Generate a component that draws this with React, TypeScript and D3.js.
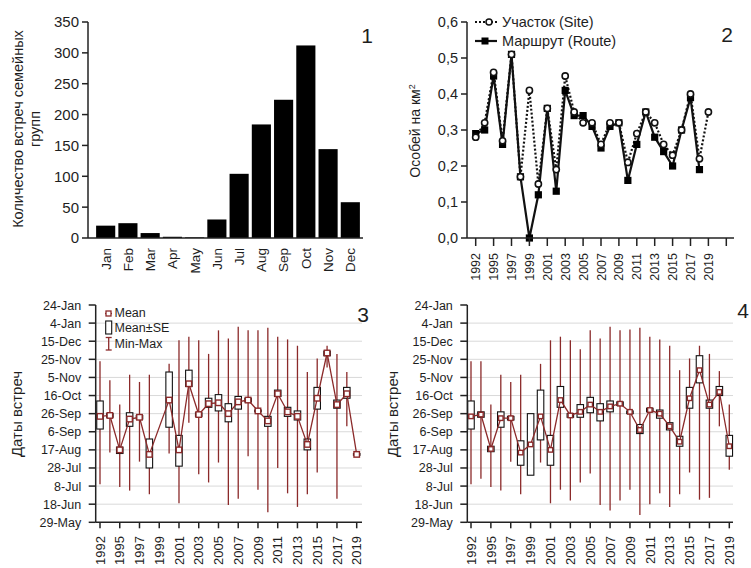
import React from "react";
import * as d3 from "d3";

// ---------- Panel 1: monthly counts ----------
const months = ["Jan", "Feb", "Mar", "Apr", "May", "Jun", "Jul", "Aug", "Sep", "Oct", "Nov", "Dec"];
const monthCounts = [20, 24, 8, 2, 1, 30, 104, 184, 224, 312, 144, 58];
const countTicks = [0, 50, 100, 150, 200, 250, 300, 350];

// ---------- Panel 2: density ----------
const years = [1992, 1994, 1995, 1996, 1997, 1998, 1999, 2000, 2001, 2002, 2003, 2004, 2005, 2006, 2007,
  2008, 2009, 2010, 2011, 2012, 2013, 2014, 2015, 2016, 2017, 2018, 2019];
const siteDensity = [0.28, 0.32, 0.46, 0.27, 0.51, 0.17, 0.41, 0.15, 0.36, 0.19, 0.45, 0.35, 0.32, 0.32, 0.26,
  0.32, 0.32, 0.21, 0.29, 0.35, 0.32, 0.26, 0.23, 0.30, 0.40, 0.22, 0.35];
const routeDensity = [0.29, 0.30, 0.45, 0.26, 0.51, 0.17, 0.0, 0.12, 0.36, 0.13, 0.41, 0.34, 0.34, 0.31, 0.25,
  0.31, 0.32, 0.16, 0.26, 0.35, 0.28, 0.24, 0.20, 0.30, 0.39, 0.19, null];
const densityTicks = [0, 0.1, 0.2, 0.3, 0.4, 0.5, 0.6];

// ---------- Panels 3 & 4: dates (days after 29 May) ----------
const dateTickLabels = ["29-May", "18-Jun", "8-Jul", "28-Jul", "17-Aug", "6-Sep", "26-Sep", "16-Oct",
  "5-Nov", "25-Nov", "15-Dec", "4-Jan", "24-Jan"];
const dateTickValues = [0, 20, 40, 60, 80, 100, 120, 140, 160, 180, 200, 220, 240];

const p3Mean = [117, 118, 80, 114, 116, 75, null, 135, 80, 153, 119, 131, 132, 120, 133, 135, 123, 112, 142, 122, 117, 86, 137, 187, 130, 142, 75];
const p3SeLo = [103, 116, 76, 106, 114, 60, null, 105, 62, 150, 117, 127, 123, 111, 125, 133, 122, 106, 139, 117, 113, 80, 125, 184, 126, 137, 74];
const p3SeHi = [134, 120, 83, 121, 118, 92, null, 166, 96, 168, 121, 137, 141, 131, 139, 137, 124, 117, 146, 127, 123, 92, 149, 189, 135, 149, 76];
const p3Min = [42, 77, 39, 35, 67, 31, null, 76, 21, 110, 53, 44, 66, 19, 26, 73, 36, 11, 60, 32, 17, 31, 55, 171, 26, 106, null];
const p3Max = [178, 157, 130, 163, 155, 163, null, 175, 201, 205, 201, 186, 212, 203, 216, 212, 212, 215, 205, 202, 195, 166, 181, 195, 186, 166, null];

const p4Mean = [117, 119, 81, 115, 115, 77, 86, 117, 80, 135, 118, 122, 130, 122, 128, 131, 122, 102, 124, 120, 106, 89, 137, 168, 130, 144, 84];
const p4SeLo = [103, 116, 78, 105, 113, 63, 52, 91, 63, 127, 116, 116, 121, 112, 122, 129, 120, 98, 122, 115, 102, 84, 126, 154, 126, 140, 73];
const p4SeHi = [134, 122, 84, 122, 117, 90, 120, 146, 96, 150, 120, 130, 138, 131, 134, 133, 123, 108, 126, 124, 110, 95, 149, 184, 135, 150, 96];
const p4Min = [42, 48, 39, 35, 67, 31, null, 66, 21, 36, 24, 44, 54, 19, 13, 24, 36, 8, 20, 32, 17, 31, 55, 25, 27, 106, 58];
const p4Max = [178, 178, 130, 163, 155, 163, null, 175, 201, 205, 201, 191, 212, 203, 216, 212, 213, 215, 205, 202, 195, 168, 181, 195, 186, 167, 130];

const FONT = "'Liberation Sans', Arial, Helvetica, sans-serif";
const TXT = "#1e1e1e";
const RED = "#8b2a2a";
const GRID = "#d9d9d9";

function Panel1() {
  const x = d3.scaleBand<string>().domain(months).range([93, 363]).padding(0.14);
  const y = d3.scaleLinear().domain([0, 350]).range([238, 22]);
  return (
    <g>
      {months.map((m, i) => (
        <rect key={m} x={x(m)} y={y(monthCounts[i])} width={x.bandwidth()} height={y(0) - y(monthCounts[i])} fill="#000" />
      ))}
      <line x1={88} x2={363} y1={y(0)} y2={y(0)} stroke="#222" strokeWidth={1.5} />
      <line x1={88} x2={88} y1={y(0)} y2={y(350)} stroke="#222" strokeWidth={1.5} />
      {countTicks.map((t) => (
        <g key={t}>
          <line x1={82} x2={88} y1={y(t)} y2={y(t)} stroke="#222" strokeWidth={1.5} />
          <text x={79} y={y(t)} dy="0.36em" textAnchor="end" fontSize={15} fill={TXT} fontFamily={FONT}>{t}</text>
        </g>
      ))}
      {months.map((m) => (
        <text key={m} transform={`translate(${x(m)! + x.bandwidth() / 2},248) rotate(-90)`} dy="0.36em"
          textAnchor="end" fontSize={13.5} fill={TXT} fontFamily={FONT}>{m}</text>
      ))}
      <text transform="translate(18,129) rotate(-90)" dy="0.36em" textAnchor="middle" fontSize={14.5} fill={TXT} fontFamily={FONT}>Количество встреч семейных</text>
      <text transform="translate(35,129) rotate(-90)" dy="0.36em" textAnchor="middle" fontSize={14.5} fill={TXT} fontFamily={FONT}>групп</text>
      <text x={367} y={43} textAnchor="middle" fontSize={21} fill={TXT} fontFamily={FONT}>1</text>
    </g>
  );
}

function Panel2() {
  const x = d3.scaleLinear().domain([0, 28]).range([475.7, 726.3]);
  const y = d3.scaleLinear().domain([0, 0.6]).range([238, 22]);
  const idx = d3.range(years.length);
  const siteLine = d3.line<number>().x((i) => x(i)).y((i) => y(siteDensity[i]));
  const routeLine = d3.line<number>().defined((i) => routeDensity[i] != null).x((i) => x(i)).y((i) => y(routeDensity[i] as number));
  const xTicks = d3.range(0, 29, 2);
  return (
    <g>
      <path d={routeLine(idx)!} fill="none" stroke="#111" strokeWidth={2.2} />
      <path d={siteLine(idx)!} fill="none" stroke="#111" strokeWidth={2.2} strokeDasharray="2,2" />
      {idx.map((i) => routeDensity[i] != null && (
        <rect key={"r" + i} x={x(i) - 3.6} y={y(routeDensity[i] as number) - 3.6} width={7.2} height={7.2} fill="#000" />
      ))}
      {idx.map((i) => (
        <circle key={"s" + i} cx={x(i)} cy={y(siteDensity[i])} r={3.1} fill="#fff" stroke="#111" strokeWidth={1.6} />
      ))}
      <line x1={467} x2={734} y1={y(0)} y2={y(0)} stroke="#222" strokeWidth={1.5} />
      <line x1={467} x2={467} y1={y(0)} y2={y(0.6)} stroke="#222" strokeWidth={1.5} />
      {densityTicks.map((t) => (
        <g key={t}>
          <line x1={461} x2={467} y1={y(t)} y2={y(t)} stroke="#222" strokeWidth={1.5} />
          <text x={458} y={y(t)} dy="0.36em" textAnchor="end" fontSize={14.5} fill={TXT} fontFamily={FONT}>{d3.format(".1f")(t).replace(".", ",")}</text>
        </g>
      ))}
      {xTicks.map((t) => (
        <g key={t}>
          <line x1={x(t)} x2={x(t)} y1={y(0)} y2={y(0) + 8} stroke="#222" strokeWidth={1.5} />
          {years[t] != null && (
            <text transform={`translate(${x(t)},253) rotate(-90)`} dy="0.36em" textAnchor="end" fontSize={12.5} fill={TXT} fontFamily={FONT}>{years[t]}</text>
          )}
        </g>
      ))}
      <text transform="translate(415,131) rotate(-90)" dy="0.36em" textAnchor="middle" fontSize={14} fill={TXT} fontFamily={FONT}>
        Особей на км<tspan fontSize={9} dy="-0.6em">2</tspan>
      </text>
      {/* legend */}
      <line x1={475} x2={497} y1={22} y2={22} stroke="#111" strokeWidth={2} strokeDasharray="2,2" />
      <circle cx={489} cy={22} r={3} fill="#fff" stroke="#111" strokeWidth={1.5} />
      <text x={502} y={27} fontSize={14.5} fill={TXT} fontFamily={FONT}>Участок (Site)</text>
      <line x1={475} x2={497} y1={41} y2={41} stroke="#111" strokeWidth={2.2} />
      <rect x={481.5} y={37.5} width={7} height={7} fill="#000" />
      <text x={502} y={46} fontSize={14.5} fill={TXT} fontFamily={FONT}>Маршрут (Route)</text>
      <text x={727} y={42} textAnchor="middle" fontSize={21} fill={TXT} fontFamily={FONT}>2</text>
    </g>
  );
}

type DP = {
  axisX: number; x0: number; x1: number; xEnd: number;
  mean: (number | null)[]; lo: (number | null)[]; hi: (number | null)[];
  mn: (number | null)[]; mx: (number | null)[];
  label: string; labelX: number; labelY: number; yLabelX: number; legend: boolean; mk: number;
};

function DatePanel(p: DP) {
  const x = d3.scaleLinear().domain([0, years.length - 1]).range([p.x0, p.x1]);
  const y = d3.scaleLinear().domain([0, 240]).range([522.3, 305]);
  const idx = d3.range(years.length);
  const valid = idx.filter((i) => p.mean[i] != null);
  const meanLine = d3.line<number>().x((i) => x(i)).y((i) => y(p.mean[i] as number));
  const xTicks = d3.range(0, years.length, 2);
  const bw = 6.5;
  const mk = p.mk;
  return (
    <g>
      {dateTickValues.slice(1, -1).map((t) => (
        <line key={"g" + t} x1={p.axisX} x2={p.xEnd} y1={y(t)} y2={y(t)} stroke={GRID} strokeWidth={1} />
      ))}
      {idx.map((i) => p.mn[i] != null && p.mx[i] != null && (
        <line key={"w" + i} x1={x(i)} x2={x(i)} y1={y(p.mn[i] as number)} y2={y(p.mx[i] as number)} stroke={RED} strokeWidth={1.3} />
      ))}
      {idx.map((i) => p.lo[i] != null && p.hi[i] != null && (p.hi[i] as number) - (p.lo[i] as number) > 1.5 && (
        <rect key={"b" + i} x={x(i) - bw / 2} y={y(p.hi[i] as number)} width={bw} height={y(p.lo[i] as number) - y(p.hi[i] as number)}
          fill="#fff" stroke="#111" strokeWidth={1.1} />
      ))}
      <path d={meanLine(valid)!} fill="none" stroke={RED} strokeWidth={1.3} />
      {valid.map((i) => (
        <rect key={"m" + i} x={x(i) - mk / 2} y={y(p.mean[i] as number) - mk / 2} width={mk} height={mk} fill="#fff" stroke={RED} strokeWidth={1.4} />
      ))}
      <line x1={p.axisX} x2={p.xEnd} y1={y(0)} y2={y(0)} stroke="#222" strokeWidth={1.5} />
      <line x1={p.axisX} x2={p.axisX} y1={y(0)} y2={y(240)} stroke="#222" strokeWidth={1.5} />
      {dateTickValues.map((t, k) => (
        <g key={"t" + t}>
          <line x1={p.axisX - 7} x2={p.axisX} y1={y(t)} y2={y(t)} stroke="#222" strokeWidth={1.5} />
          <text x={p.axisX - 14.5} y={y(t)} dy="0.36em" textAnchor="end" fontSize={12.5} fill={TXT} fontFamily={FONT}>{dateTickLabels[k]}</text>
        </g>
      ))}
      {xTicks.map((t) => (
        <g key={"x" + t}>
          <line x1={x(t)} x2={x(t)} y1={y(0)} y2={y(0) + 6} stroke="#222" strokeWidth={1.5} />
          <text transform={`translate(${x(t)},536) rotate(-90)`} dy="0.36em" textAnchor="end" fontSize={13} fill={TXT} fontFamily={FONT}>{years[t]}</text>
        </g>
      ))}
      <text transform={`translate(${p.yLabelX},414) rotate(-90)`} dy="0.36em" textAnchor="middle" fontSize={15} fill={TXT} fontFamily={FONT}>Даты встреч</text>
      <text x={p.labelX} y={p.labelY} textAnchor="middle" fontSize={21} fill={TXT} fontFamily={FONT}>{p.label}</text>
      {p.legend && (
        <g>
          <line x1={105} x2={112} y1={313.5} y2={313.5} stroke={RED} strokeWidth={1.3} />
          <rect x={106} y={311} width={5} height={5} fill="#fff" stroke={RED} strokeWidth={1.3} />
          <text x={114.5} y={317} fontSize={12.5} fill={TXT} fontFamily={FONT}>Mean</text>
          <rect x={105.7} y={321} width={6} height={13} fill="#fff" stroke="#111" strokeWidth={1.1} />
          <text x={114.5} y={332} fontSize={12.5} fill={TXT} fontFamily={FONT}>Mean±SE</text>
          <line x1={108.7} x2={108.7} y1={337.5} y2={350} stroke={RED} strokeWidth={1.3} />
          <line x1={105.7} x2={111.7} y1={337.5} y2={337.5} stroke={RED} strokeWidth={1.3} />
          <line x1={105.7} x2={111.7} y1={350} y2={350} stroke={RED} strokeWidth={1.3} />
          <text x={114.5} y={348} fontSize={12.5} fill={TXT} fontFamily={FONT}>Min-Max</text>
        </g>
      )}
    </g>
  );
}

export default function App() {
  return (
    <svg width={751} height={568} style={{ position: "absolute", left: 0, top: 0, background: "#fff" }}>
      <rect x={0} y={0} width={751} height={568} fill="#fff" />
      <Panel1 />
      <Panel2 />
      <DatePanel axisX={95.7} x0={100} x1={356.7} xEnd={362} mean={p3Mean} lo={p3SeLo} hi={p3SeHi} mn={p3Min} mx={p3Max}
        label="3" labelX={363} labelY={322} yLabelX={17} legend={true} mk={5.5} />
      <DatePanel axisX={467.3} x0={471} x1={729.3} xEnd={733} mean={p4Mean} lo={p4SeLo} hi={p4SeHi} mn={p4Min} mx={p4Max}
        label="4" labelX={743} labelY={318} yLabelX={393} legend={false} mk={4.5} />
    </svg>
  );
}
